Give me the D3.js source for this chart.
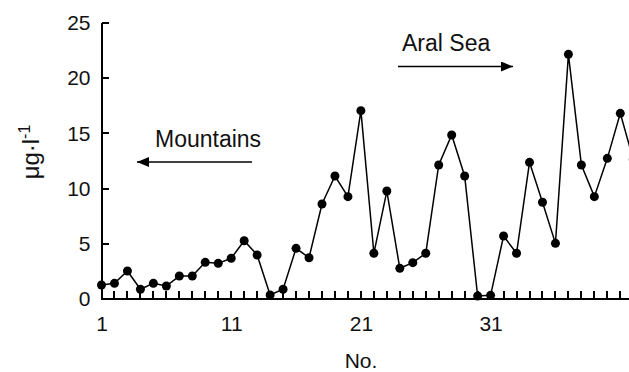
<!DOCTYPE html>
<html>
<head>
<meta charset="utf-8">
<script src="https://cdn.jsdelivr.net/npm/d3@7"></script>
<style>
  body { margin: 0; background: #fff; }
  svg { display: block; }
  text { font-family: "Liberation Sans", Arial, sans-serif; fill: #111; }
</style>
</head>
<body>
<div id="chart"></div>
<script>
let w = 629;
let h = 372;

// sample number along the transect
const sampleNo = d3.range(1, 43);
// concentration, µg/l
const conc = [1.27, 1.42, 2.54, 0.88, 1.42, 1.18, 2.08, 2.08, 3.32, 3.23,
              3.69, 5.28, 3.99, 0.36, 0.88, 4.59, 3.74, 8.6, 11.14, 9.27,
              17.06, 4.14, 9.78, 2.78, 3.29, 4.14, 12.14, 14.86, 11.14, 0.27,
              0.33, 5.71, 4.14, 12.38, 8.76, 5.04, 22.16, 12.14, 9.27, 12.74,
              16.82, 12.65];
const yTicks = [0, 5, 10, 15, 20, 25];
const xTicks = d3.range(1, 44);
const xLabels = [1, 11, 21, 31];

const data = sampleNo.map((n, i) => ({no: n, v: conc[i]}));

let x = d3.scaleLinear().domain([1, 43]).range([101.5, 101.5 + 42 * 12.97]);
let y = d3.scaleLinear().domain([0, 25]).range([299, 23]);

let svg = d3.select("#chart").append("svg")
  .attr("width", w)
  .attr("height", h);

// arrowheads
svg.append("defs").append("marker")
    .attr("id", "head")
    .attr("viewBox", "0 0 12 10")
    .attr("refX", 12)
    .attr("refY", 5)
    .attr("markerWidth", 12)
    .attr("markerHeight", 10)
    .attr("markerUnits", "userSpaceOnUse")
    .attr("orient", "auto")
  .append("path")
    .attr("d", "M0,0 L12,5 L0,10 Z")
    .attr("fill", "#000");

// axes: labels from d3 axis
let yAxis = svg.append("g")
  .attr("transform", "translate(" + x(1) + ",0)")
  .call(d3.axisLeft(y).tickValues(yTicks).tickSize(0).tickPadding(11));
yAxis.select(".domain").remove();
yAxis.selectAll("text").attr("font-size", 21).attr("font-family", null);

let xAxis = svg.append("g")
  .attr("transform", "translate(0," + y(0) + ")")
  .call(d3.axisBottom(x).tickValues(xLabels).tickFormat(d3.format("d")).tickSize(0).tickPadding(17));
xAxis.select(".domain").remove();
xAxis.selectAll("text").attr("font-size", 21).attr("font-family", null);

// tick marks pointing into the plot
svg.append("g")
  .selectAll("rect")
  .data(xTicks)
  .join("rect")
    .attr("x", d => Math.round(x(d)) - 1)
    .attr("y", y(0) - 8)
    .attr("width", 2)
    .attr("height", 8)
    .attr("fill", "#000");

svg.append("g")
  .selectAll("rect")
  .data(yTicks)
  .join("rect")
    .attr("x", Math.round(x(1)))
    .attr("y", d => Math.round(y(d)) - 1)
    .attr("width", 7)
    .attr("height", 2)
    .attr("fill", "#000");

// axis lines
svg.append("rect")
  .attr("x", Math.round(x(1)) - 1)
  .attr("y", y(25))
  .attr("width", 2)
  .attr("height", y(0) - y(25) + 1)
  .attr("fill", "#000");
svg.append("rect")
  .attr("x", Math.round(x(1)) - 1)
  .attr("y", y(0) - 1)
  .attr("width", x(43) - x(1))
  .attr("height", 2)
  .attr("fill", "#000");

// axis titles
svg.append("text")
  .attr("x", 361)
  .attr("y", 368)
  .attr("text-anchor", "middle")
  .attr("font-size", 21)
  .text("No.");

let yt = svg.append("text")
  .attr("transform", "translate(39,152) rotate(-90)")
  .attr("text-anchor", "middle")
  .attr("font-size", 24);
yt.append("tspan").text("μg·l");
yt.append("tspan").attr("dy", -9).attr("font-size", 16).text("-1");

// line and points
let line = d3.line().x(d => x(d.no)).y(d => y(d.v));
svg.append("path")
  .datum(data)
  .attr("d", line)
  .attr("fill", "none")
  .attr("stroke", "#000")
  .attr("stroke-width", 1.5);

svg.append("g")
  .selectAll("circle")
  .data(data)
  .join("circle")
    .attr("cx", d => x(d.no))
    .attr("cy", d => y(d.v))
    .attr("r", 4.5)
    .attr("fill", "#000");

// annotations
svg.append("text")
  .attr("x", 155)
  .attr("y", 147)
  .attr("font-size", 23)
  .text("Mountains");
svg.append("line")
  .attr("x1", 252).attr("y1", 162)
  .attr("x2", 137).attr("y2", 162)
  .attr("stroke", "#000")
  .attr("stroke-width", 1.5)
  .attr("marker-end", "url(#head)");

svg.append("text")
  .attr("x", 402)
  .attr("y", 51)
  .attr("font-size", 23)
  .text("Aral Sea");
svg.append("line")
  .attr("x1", 398).attr("y1", 66.5)
  .attr("x2", 513).attr("y2", 66.5)
  .attr("stroke", "#000")
  .attr("stroke-width", 1.5)
  .attr("marker-end", "url(#head)");
</script>
</body>
</html>
